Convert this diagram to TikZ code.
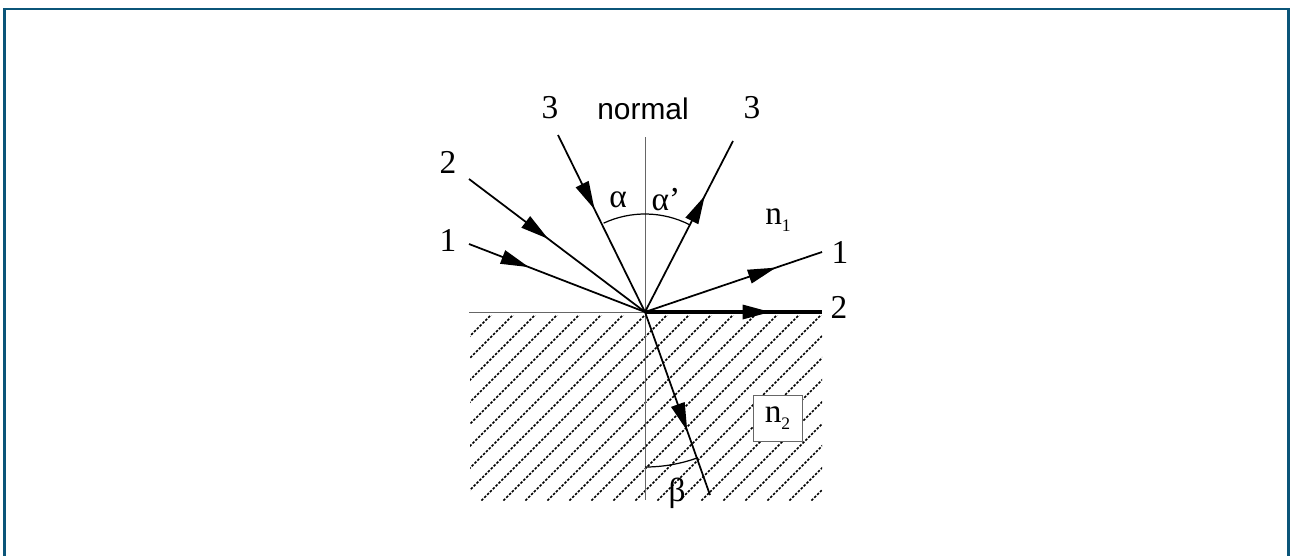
\documentclass[tikz,border=0pt]{standalone}
\usepackage{fontspec}
\setmainfont{Liberation Serif}
\newfontfamily\captionsans{Liberation Sans}
\usepackage{xcolor}
\usetikzlibrary{arrows.meta, decorations.markings}

\definecolor{framec}{HTML}{0B5579}
\newcommand{\lowsub}[1]{\raisebox{-0.45ex}{\fontsize{10}{10}\selectfont #1}}

\begin{document}
\begin{tikzpicture}[
    x=0.02cm, y=0.02cm,
    ray/.style={line width=1pt},
    tip at/.style={postaction={decorate}, decoration={markings, mark=at position #1 with {\arrow{Triangle[length=16pt, width=8pt]}}}},
    tag/.style={font=\fontsize{19}{19}\selectfont, inner sep=0pt},
    thinline/.style={line width=0.5pt, black!60},
    hatch/.style={line width=0.9pt, dash pattern=on 1.4pt off 0.9pt, black},
    boxn/.style={draw=black!60, line width=0.5pt, fill=white, minimum width=0.98cm, minimum height=0.92cm, inner sep=0pt, font=\fontsize{19}{19}\selectfont}
]
\useasboundingbox (-645,-243) rectangle (645,312);

% Frame
\draw[framec, line width=1.7pt] (-640.5,-250) |- (643.5,303) -- (643.5,-250);

% Points
\coordinate (O) at (0,0);
\coordinate (in1) at (-176,68);
\coordinate (in2) at (-176,133);
\coordinate (in3) at (-87,177);
\coordinate (out1) at (177,60);
\coordinate (out2) at (177,0);
\coordinate (out3) at (88,171);
\coordinate (refr) at (65,-183);
\coordinate (left) at (-176,0);
\coordinate (ntop) at (0,175);
\coordinate (nbot) at (0,-188);

% Hatched medium
\begin{scope}
  \clip (-175,-3) rectangle (177,-188);
  \foreach \t in {-173,-151,...,390}
    \draw[hatch] (\t-200,-200) -- (\t+10,10);
\end{scope}

% Interface and normal
\draw[thinline] (left) -- (O);
\draw[thinline] (ntop) -- (nbot);

% Angle arcs
\draw[line width=0.7pt] (115:98) arc[start angle=115, end angle=63, radius=98];
\draw[line width=0.7pt] (270:155) arc[start angle=270, end angle=290, radius=155];

% Incident rays
\draw[ray, tip at=0.42] (in3) -- (O);
\draw[ray, tip at=0.45] (in2) -- (O);
\draw[ray, tip at=0.34] (in1) -- (O);

% Reflected and refracted rays
\draw[ray, tip at=0.68] (O) -- (out3);
\draw[ray, tip at=0.74] (O) -- (out1);
\draw[line width=1.8pt, tip at=0.71] (O) -- (out2);
\draw[ray, tip at=0.65] (O) -- (refr);

% Labels
\node[tag] (l3a) at (-95,204) {3};
\node[font=\captionsans\fontsize{17}{17}\selectfont, inner sep=0pt] (lnorm) at (-2,203) {normal};
\node[tag] (l3b) at (107,204) {3};
\node[tag] (l2a) at (-197,150) {2};
\node[tag] (l1a) at (-197,72) {1};
\node[tag] (l1b) at (195,60) {1};
\node[tag] (l2b) at (194,5) {2};
\node[tag] (n1) at (133,92) {n\lowsub{1}};
\node[tag] (alpha) at (-27,112) {α};
\node[tag] (alphap) at (21,112) {α’};
\node[tag] (beta) at (32,-181) {β};
\node[boxn] (n2) at (132.5,-106) {n\lowsub{2}};

\end{tikzpicture}
\end{document}
